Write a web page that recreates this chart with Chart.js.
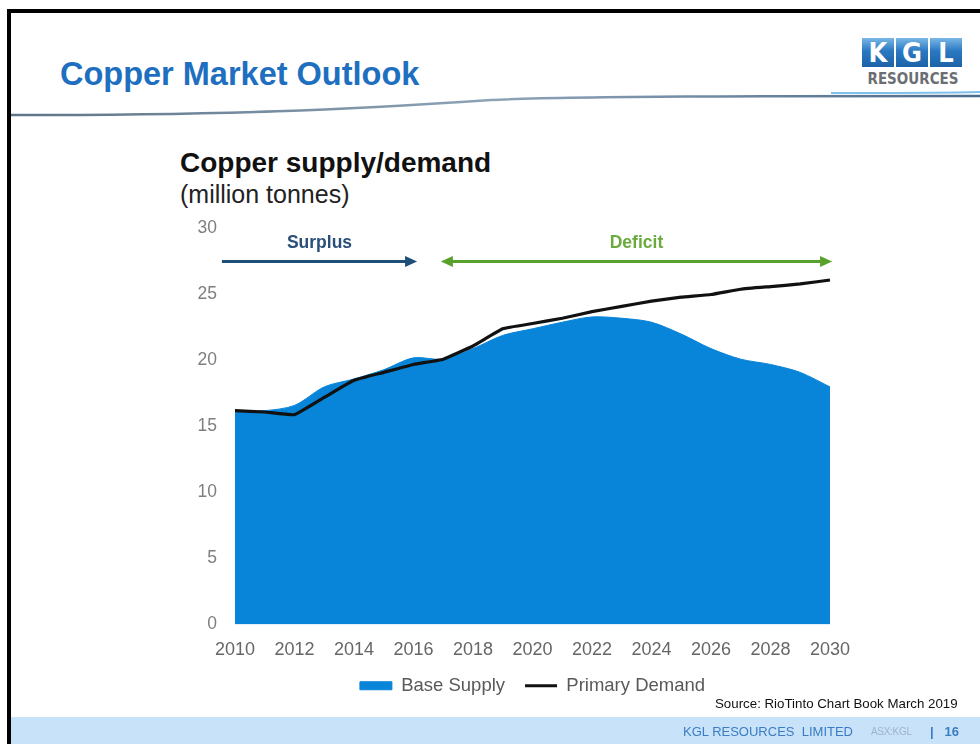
<!DOCTYPE html>
<html>
<head>
<meta charset="utf-8">
<title>Copper Market Outlook</title>
<script src="https://cdn.jsdelivr.net/npm/chart.js@4.4.1/dist/chart.umd.min.js"></script>
<style>
  html, body { margin: 0; padding: 0; background: #fff; }
  body { width: 980px; height: 744px; position: relative; overflow: hidden; font-family: "Liberation Sans", Arial, sans-serif; }
  .frame-top { position: absolute; left: 7px; top: 9px; width: 973px; height: 4px; background: #000; }
  .frame-left { position: absolute; left: 7px; top: 9px; width: 4px; height: 735px; background: #000; }
  .page-title { position: absolute; left: 60px; top: 58px; font-size: 32.5px; line-height: 1; font-weight: bold; color: #1f6fc0; }
  .swoosh { position: absolute; left: 11px; top: 86px; }
  .logo { position: absolute; left: 862px; top: 38px; width: 102px; }
  .logo .tiles { display: flex; gap: 2px; }
  .logo .tile { width: 32px; height: 29px; background: linear-gradient(#7ab8e6, #2a78c2 45%, #1c62a8); color: #fff; font: bold 27px "DejaVu Sans Condensed", "Liberation Sans Narrow", sans-serif; text-align: center; line-height: 30px; }
  .logo .name { font: bold 15px "DejaVu Sans Condensed", "Liberation Sans Narrow", sans-serif; color: #6b6f73; margin-top: 3px; text-align: center; }
  .chart-title { position: absolute; left: 180px; top: 149px; font-size: 28px; line-height: 1; font-weight: bold; color: #111; }
  .chart-unit { position: absolute; left: 180px; top: 182px; font-size: 25px; line-height: 1; color: #222; }
  .chart-box { position: absolute; left: 160px; top: 200px; width: 744px; height: 509px; }
  .source { position: absolute; left: 715px; top: 697px; font-size: 13.3px; line-height: 1; color: #111; }
  .footer { position: absolute; left: 11px; top: 717px; width: 969px; height: 27px; background: #c8e2f9; }
  .footer span { position: absolute; top: 8px; font-size: 13px; line-height: 1; }
  .footer .co { left: 672px; color: #3b7cc2; }
  .footer .asx { left: 860px; color: #9fb5cb; font-size: 10px; top: 10px; letter-spacing: -0.3px; }
  .footer .pg { left: 919px; color: #3b7cc2; font-weight: bold; }
</style>
</head>
<body>
<div class="frame-top"></div>
<div class="frame-left"></div>
<div class="page-title">Copper Market Outlook</div>
<svg class="swoosh" width="969" height="36" viewBox="0 0 969 36">
  <defs>
    <linearGradient id="swooshGrad" x1="0" x2="1" y1="0" y2="0">
      <stop offset="0" stop-color="#5d7489"/>
      <stop offset="0.5" stop-color="#8fa3b8"/>
      <stop offset="1" stop-color="#4a6a8a"/>
    </linearGradient>
  </defs>
  <path d="M0,29 C220,29 330,24 480,14 C560,10 760,10 969,10" fill="none" stroke="url(#swooshGrad)" stroke-width="2.5"/>
  <path d="M820,7 C880,7 930,7 969,6" fill="none" stroke="#7fc0ec" stroke-width="2"/>
</svg>
<div class="logo">
  <div class="tiles"><div class="tile">K</div><div class="tile">G</div><div class="tile">L</div></div>
  <div class="name">RESOURCES</div>
</div>
<div class="chart-title">Copper supply/demand</div>
<div class="chart-unit">(million tonnes)</div>
<div class="chart-box"><canvas id="copperChart"></canvas></div>
<div class="source">Source: RioTinto Chart Book March 2019</div>
<div class="footer">
  <span class="co">KGL RESOURCES &nbsp;LIMITED</span>
  <span class="asx">ASX:KGL</span>
  <span class="pg">|&nbsp;&nbsp; 16</span>
</div>

<script>
// Copper supply and demand, million tonnes
const years = ['2010', '2011', '2012', '2013', '2014', '2015', '2016', '2017', '2018', '2019', '2020',
               '2021', '2022', '2023', '2024', '2025', '2026', '2027', '2028', '2029', '2030'];
const baseSupply = [16.2, 16.2, 16.6, 18.0, 18.6, 19.3, 20.2, 20.1, 20.9, 21.9, 22.4,
                    22.9, 23.3, 23.2, 22.9, 22.0, 20.9, 20.1, 19.7, 19.1, 18.0];
const primaryDemand = [16.2, 16.1, 15.9, 17.2, 18.5, 19.1, 19.7, 20.1, 21.1, 22.4, 22.8,
                       23.2, 23.7, 24.1, 24.5, 24.8, 25.0, 25.4, 25.6, 25.8, 26.1];
const yTicks = [0, 5, 10, 15, 20, 25, 30];

// Surplus / deficit periods shown as arrows above the curves (x in category index units)
const regimes = [
  { label: 'Surplus', from: -0.44, to: 6.12, color: '#1f4e79', textColor: '#2a4f78', heads: 'end' },
  { label: 'Deficit', from: 6.92, to: 20.07, color: '#5aa02c', textColor: '#6aaa3e', heads: 'both' }
];
const arrowLevel = 27.5;
const labelLevel = 28.9;

const fontFamily = '"Liberation Sans", Arial, sans-serif';

const regimeArrows = {
  id: 'regimeArrows',
  afterDatasetsDraw(chart) {
    const { ctx, scales: { x, y } } = chart;
    const yy = y.getPixelForValue(arrowLevel);
    const ty = y.getPixelForValue(labelLevel);
    ctx.save();
    regimes.forEach(r => {
      const x0 = x.getPixelForValue(r.from);
      const x1 = x.getPixelForValue(r.to);
      const head = 12, half = 5.5;
      ctx.strokeStyle = r.color;
      ctx.fillStyle = r.color;
      ctx.lineWidth = 3;
      ctx.beginPath();
      ctx.moveTo(r.heads === 'both' ? x0 + head - 2 : x0, yy);
      ctx.lineTo(x1 - head + 2, yy);
      ctx.stroke();
      ctx.beginPath();
      ctx.moveTo(x1, yy);
      ctx.lineTo(x1 - head, yy - half);
      ctx.lineTo(x1 - head, yy + half);
      ctx.closePath();
      ctx.fill();
      if (r.heads === 'both') {
        ctx.beginPath();
        ctx.moveTo(x0, yy);
        ctx.lineTo(x0 + head, yy - half);
        ctx.lineTo(x0 + head, yy + half);
        ctx.closePath();
        ctx.fill();
      }
      ctx.fillStyle = r.textColor;
      ctx.font = 'bold 17.5px ' + fontFamily;
      ctx.textAlign = 'center';
      ctx.textBaseline = 'middle';
      ctx.fillText(r.label, (x0 + x1) / 2, ty);
    });
    ctx.restore();
  }
};

const ctx = document.getElementById('copperChart').getContext('2d');
new Chart(ctx, {
  type: 'line',
  data: {
    labels: years,
    datasets: [
      {
        label: 'Base Supply',
        data: baseSupply,
        order: 2,
        fill: 'origin',
        backgroundColor: '#0884d8',
        borderColor: '#0884d8',
        borderWidth: 1,
        tension: 0.3,
        pointRadius: 0,
        pointStyle: 'rect'
      },
      {
        label: 'Primary Demand',
        data: primaryDemand,
        order: 1,
        fill: false,
        borderColor: '#111111',
        backgroundColor: '#111111',
        borderWidth: 3.2,
        tension: 0.1,
        pointRadius: 0,
        pointStyle: 'line'
      }
    ]
  },
  options: {
    responsive: true,
    maintainAspectRatio: false,
    animation: false,
    layout: {
      padding: { left: 35, right: 34, top: 11, bottom: 4 }
    },
    plugins: {
      legend: {
        display: true,
        position: 'bottom',
        labels: {
          color: '#595959',
          font: { size: 18.5, family: fontFamily },
          usePointStyle: true,
          pointStyleWidth: 32,
          boxHeight: 8,
          padding: 20,
          sort: (a, b) => a.datasetIndex - b.datasetIndex
        }
      },
      tooltip: { enabled: false }
    },
    scales: {
      x: {
        grid: { display: false, drawTicks: false },
        border: { display: false },
        afterFit(scale) { scale.height = 32; },
        ticks: {
          autoSkip: false,
          maxRotation: 0,
          padding: 15,
          color: '#666666',
          font: { size: 18, family: fontFamily },
          callback(value, index) {
            return index % 2 === 0 ? years[index] : '';
          }
        }
      },
      y: {
        min: 0,
        max: 30,
        afterFit(scale) { scale.width = 40; },
        afterBuildTicks(scale) { scale.ticks = yTicks.map(v => ({ value: v })); },
        grid: { display: false, drawTicks: false },
        border: { display: false },
        ticks: {
          padding: 18,
          color: '#7f7f7f',
          font: { size: 17.5, family: fontFamily }
        }
      },
      // empty right-hand axis keeps the plot and legend centred on the same column
      yRight: {
        position: 'right',
        min: 0,
        max: 30,
        afterFit(scale) { scale.width = 40; },
        grid: { display: false, drawTicks: false },
        border: { display: false },
        ticks: { display: false }
      }
    }
  },
  plugins: [regimeArrows]
});
</script>
</body>
</html>
